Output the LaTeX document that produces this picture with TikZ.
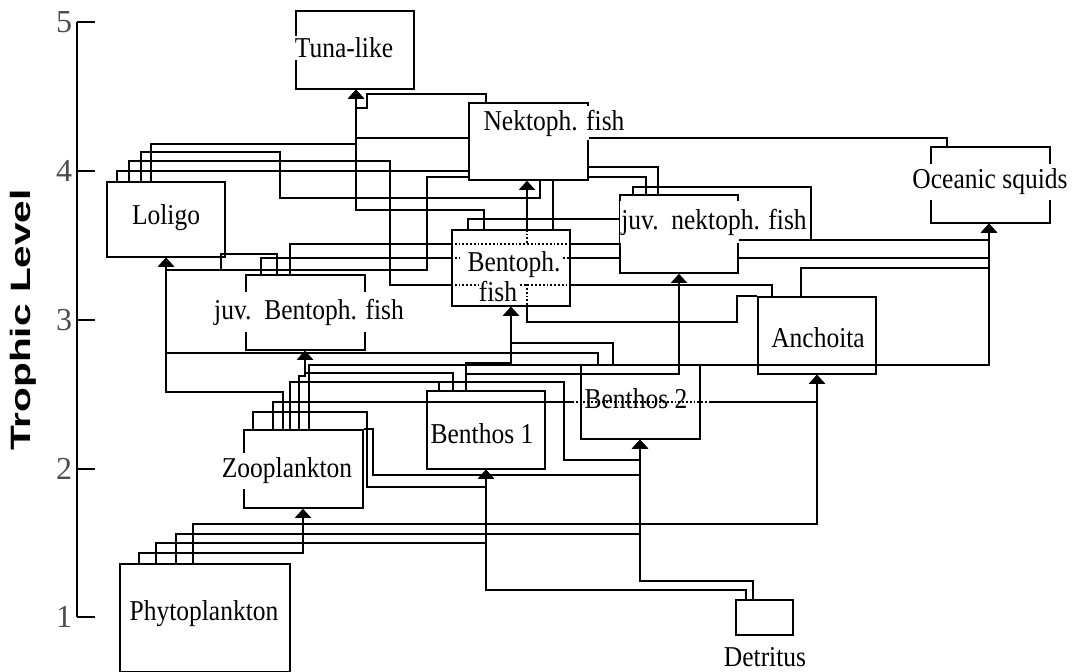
\documentclass[tikz,border=0pt]{standalone}
\usepackage{fontspec}
\setmainfont{Liberation Serif}
\setsansfont{Liberation Sans}
\usetikzlibrary{arrows.meta}
\newcommand{\tx}[1]{\scalebox{1.02}[1.15]{#1}}
\begin{document}
\begin{tikzpicture}[x=1pt,y=-1pt,
  box/.style={draw,line width=1.8pt,inner sep=0pt,anchor=north west},
  lab/.style={fill=white,inner xsep=1pt,inner ysep=2pt,font=\fontsize{25}{30}\selectfont},
  ln/.style={line width=1.8pt},
  arr/.style={line width=1.8pt,-{Triangle[width=16pt,length=9pt]}},
  dotl/.style={line width=1.8pt,dotted},
  tick/.style={font=\fontsize{32}{32}\selectfont,text=black!70}
]
\useasboundingbox (0,0) rectangle (1077,672);
% axis
\node[rotate=90,font=\sffamily\bfseries\fontsize{28}{30}\selectfont] (axlab) at (23,320) {\scalebox{1.45}[1]{Trophic Level}};
\coordinate (ax5) at (77,22);
\coordinate (ax1) at (77,617);
\draw[ln] (ax5) -- (ax1);
\foreach \v/\y in {5/22,4/171,3/320,2/469,1/617}{
  \draw[ln] (77,\y) -- (95,\y);
  \node[tick] (t\v) at (64,\y) {\v};
}
% boxes
\node[box,minimum width=118pt,minimum height=78pt] (tuna) at (295,10) {};
\node[box,minimum width=119pt,minimum height=77pt] (nek) at (468,102) {};
\node[box,minimum width=119pt,minimum height=76pt] (oce) at (930,146) {};
\node[box,minimum width=118pt,minimum height=75pt] (lol) at (106,181) {};
\node[box,minimum width=118pt,minimum height=78pt] (jnek) at (619,194) {};
\node[box,minimum width=118pt,minimum height=76pt] (bent) at (451,229) {};
\node[box,minimum width=119pt,minimum height=75pt] (jbent) at (245,274) {};
\node[box,minimum width=119pt,minimum height=78pt] (zoo) at (243,429) {};
\node[box,minimum width=170pt,minimum height=108pt] (phy) at (119,563) {};
\node[box,minimum width=118pt,minimum height=78pt] (ben1) at (426,390) {};
\node[box,minimum width=119pt,minimum height=74pt] (ben2) at (580,364) {};
\node[box,minimum width=118pt,minimum height=77pt] (anc) at (757,296) {};
\node[box,minimum width=57pt,minimum height=35pt] (det) at (735,599) {};
% labels
\node[lab] (tunaT) at (344,48) {\tx{Tuna-like}};
\node[lab,inner ysep=4pt] (nekT) at (554,123) {\tx{Nektoph. fish}};
\node[lab,inner ysep=5pt] (oceT) at (990,182) {\tx{Oceanic squids}};
\node[lab] (lolT) at (166,218) {\tx{Loligo}};
\node[lab,inner ysep=8pt] (jnekT) at (714,222) {\tx{juv.\ \ nektoph. fish}};
\node[lab,inner ysep=0pt] (bentT) at (514,265) {\tx{Bentoph.}};
\node[lab,inner ysep=1pt] (bentT2) at (498,292) {\tx{fish}};
\node[lab,inner ysep=7pt] (jbentT) at (309,312) {\tx{juv.\ \ Bentoph. fish}};
\node[lab,inner ysep=5pt] (zooT) at (287,471) {\tx{Zooplankton}};
\node[lab] (phyT) at (204,614) {\tx{Phytoplankton}};
\node[lab] (ben1T) at (482,434) {\tx{Benthos 1}};
\node[lab] (ben2T) at (636,399) {\tx{Benthos 2}};
\node[lab] (ancT) at (818,338) {\tx{Anchoita}};
\node[lab] (detT) at (765,657) {\tx{Detritus}};
% Phytoplankton
\draw[arr] (phy.north -| 139,0) |- (303,553) -- (zoo.south -| 303,0);
\draw[arr] (phy.north -| 156,0) |- (486,543) -- (ben1.south -| 486,0);
\draw[arr] (phy.north -| 176,0) |- (640,534) -- (ben2.south -| 640,0);
\draw[arr] (phy.north -| 193,0) |- (817,524) -- (anc.south -| 817,0);
% Detritus
\draw[arr] (det.north -| 746,0) |- (486,590) -- (ben1.south -| 486,0);
\draw[arr] (det.north -| 753,0) |- (640,581) -- (ben2.south -| 640,0);
% Zooplankton
\draw[arr] (zoo.north -| 253,0) |- (367,412) |- (486,487) -- (ben1.south -| 486,0);
\draw[ln] (zoo.north -| 273,0) |- (572,402);
\draw[dotl] (572,402) -- (710,402);
\draw[arr] (710,402) -- (817,402) -- (anc.south -| 817,0);
\draw[arr] (zoo.north -| 283,0) |- (166,392) -- (lol.south -| 166,0);
\draw[arr] (zoo.north -| 290,0) |- (564,382) |- (640,460) -- (ben2.south -| 640,0);
\draw[arr] (zoo.north -| 299,0) |- (305,376) -- (jbent.south -| 305,0);
\draw[arr] (zoo.north -| 309,0) |- (989,365) -- (oce.south -| 989,0);
\draw[arr] (zoo.north east) -- (373,429) |- (640,475) -- (ben2.south -| 640,0);
% Benthos 1
\draw[ln] (ben1.north -| 439,0) -- (439,382);
\draw[arr] (ben1.north -| 453,0) |- (305,373) -- (jbent.south -| 305,0);
\draw[arr] (ben1.north -| 466,0) |- (511,363) -- (bent.south -| 511,0);
\draw[arr] (466,374) -- (679,374) -- (jnek.south -| 679,0);
% Benthos 2
\draw[arr] (ben2.north -| 598,0) |- (166,353) -- (lol.south -| 166,0);
\draw[arr] (ben2.north -| 613,0) |- (511,343) -- (bent.south -| 511,0);
% Anchoita
\draw[ln] (anc.north west) -- (737,296) |- (527,322) -- (bent.south -| 527,0);
\draw[dotl] (527,305) -- (527,283) (527,243) -- (527,229);
\draw[arr] (bent.north -| 527,0) -- (nek.south -| 527,0);
\draw[ln] (anc.north -| 772,0) |- (727,285) -- (bent.east |- 0,285);
\draw[dotl] (451,285) -- (478,285) (520,285) -- (569,285);
\draw[ln] (bent.west |- 0,285) -- (390,285) |- (129,161) -- (lol.north -| 129,0);
\draw[arr] (anc.north -| 801,0) |- (989,268) -- (oce.south -| 989,0);
% juv. Bentoph. fish
\draw[ln] (jbent.north -| 261,0) |- (bent.west |- 0,258);
\draw[dotl] (451,258) -- (462,258) (563,258) -- (569,258);
\draw[ln] (bent.east |- 0,258) -- (jnek.west |- 0,258);
\draw[arr] (jnek.east |- 0,258) -- (989,258) -- (oce.south -| 989,0);
\draw[arr] (jbent.north -| 277,0) |- (221,254) -- (221,270) -- (166,270) -- (lol.south -| 166,0);
\draw[ln] (221,270) -- (427,270) |- (nek.west |- 0,177);
\draw[ln] (jbent.north -| 290,0) |- (bent.west |- 0,244);
\draw[dotl] (451,244) -- (569,244);
\draw[ln] (bent.east |- 0,244) -- (jnek.west |- 0,244);
% Loligo
\draw[arr] (lol.north -| 151,0) |- (356,144) -- (tuna.south -| 356,0);
\draw[ln] (lol.north -| 141,0) |- (280,152) |- (540,198) -- (nek.south -| 540,0);
\draw[ln] (lol.north -| 117,0) |- (nek.west |- 0,171);
% Bentoph. fish
\draw[ln] (bent.north -| 468,0) |- (jnek.west |- 0,219);
\draw[arr] (bent.north -| 484,0) |- (356,210) -- (tuna.south -| 356,0);
\draw[ln] (bent.north -| 553,0) -- (nek.south -| 553,0);
% Nektoph. fish
\draw[ln] (nek.east |- 0,138) -| (oce.north -| 947,0);
\draw[arr] (nek.north -| 486,0) |- (367,94) |- (356,108) -- (tuna.south -| 356,0);
\draw[arr] (nek.west |- 0,138) -- (356,138) -- (tuna.south -| 356,0);
% juv. nektoph. fish
\draw[ln] (jnek.north -| 658,0) |- (nek.east |- 0,167);
\draw[ln] (jnek.north -| 646,0) |- (nek.east |- 0,177);
\draw[arr] (jnek.north -| 633,0) |- (811,187) |- (989,240) -- (oce.south -| 989,0);
\draw[ln] (jnek.east |- 0,240) -- (811,240);
\end{tikzpicture}
\end{document}
